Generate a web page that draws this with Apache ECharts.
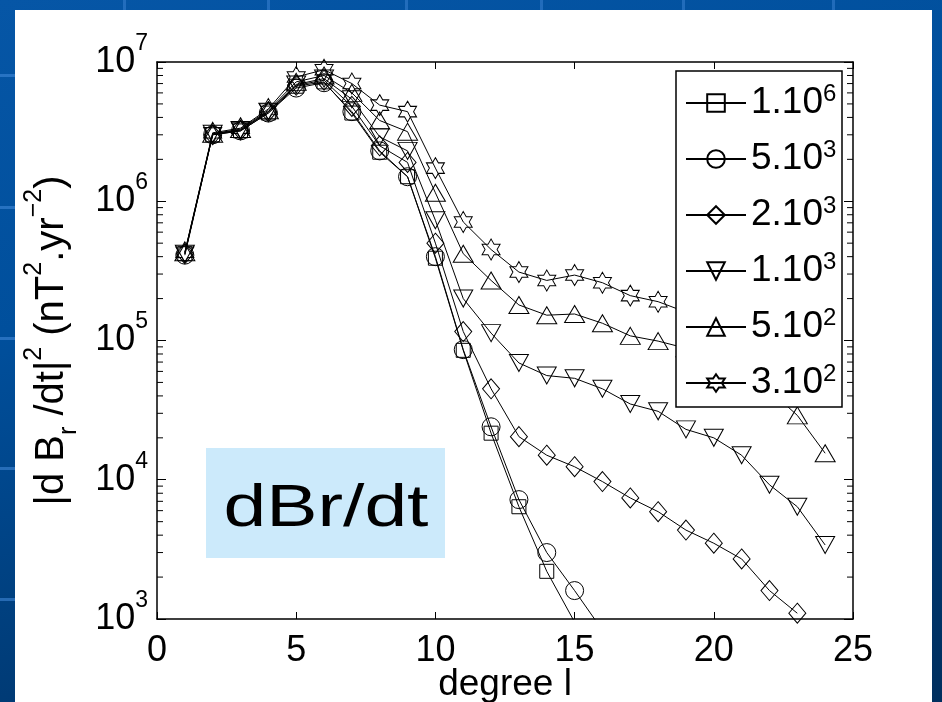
<!DOCTYPE html>
<html><head><meta charset="utf-8">
<script src="https://cdn.jsdelivr.net/npm/echarts@6/dist/echarts.min.js"></script>
<style>
html,body{margin:0;padding:0;}
#wrap{position:relative;width:942px;height:702px;overflow:hidden;background:linear-gradient(165deg,#0656a6 0%,#004f9c 35%,#003a74 75%,#002f5e 100%);}
.hl{position:absolute;left:0;width:15px;height:3px;background:rgba(70,140,220,0.55);}
.vl{position:absolute;top:0;width:3px;height:10px;background:rgba(70,140,220,0.45);}
#paper{position:absolute;left:15px;top:10px;width:917px;height:692px;background:#fff;}
#chart{position:absolute;left:0;top:0;width:942px;height:702px;}
</style></head><body>
<div id="wrap">
<div class="hl" style="top:74px"></div><div class="hl" style="top:206px"></div><div class="hl" style="top:337px"></div><div class="hl" style="top:467px"></div><div class="hl" style="top:598px"></div>
<div class="vl" style="left:123px"></div><div class="vl" style="left:267px"></div><div class="vl" style="left:405px"></div><div class="vl" style="left:540px"></div><div class="vl" style="left:682px"></div><div class="vl" style="left:832px"></div>
<div id="paper"></div><div id="chart"></div></div>
<script>
// ---- data ----
const degrees = [1,2,3,4,5,6,7,8,9,10,11,12,13,14,15,16,17,18,19,20,21,22,23,24];
const v_1e6 = [4.2e5,3.0e6,3.2e6,4.3e6,6.7e6,7.2e6,4.3e6,2.25e6,1.5e6,3.9e5,8.5e4,2.16e4,6.4e3,2.2e3,9.5e2];
const v_5e3 = [4.1e5,3.0e6,3.2e6,4.3e6,6.5e6,7.1e6,4.4e6,2.3e6,1.5e6,4.0e5,8.6e4,2.4e4,7.2e3,3.0e3,1.6e3,8.3e2];
const v_2e3 = [4.2e5,3.0e6,3.25e6,4.4e6,6.8e6,7.4e6,4.8e6,2.5e6,1.9e6,5.0e5,1.16e5,4.5e4,2.04e4,1.5e4,1.24e4,9.7e3,7.4e3,5.9e3,4.35e3,3.5e3,2.7e3,1.6e3,1.1e3];
const v_1e3 = [4.2e5,3.05e6,3.25e6,4.4e6,6.9e6,7.6e6,5.4e6,2.9e6,2.3e6,7.3e5,2.0e5,1.13e5,6.9e4,5.6e4,5.35e4,4.5e4,3.5e4,3.1e4,2.3e4,2.0e4,1.5e4,9.2e3,6.4e3,3.4e3];
const v_5e2 = [4.3e5,3.05e6,3.3e6,4.5e6,7.2e6,8.0e6,6.0e6,3.8e6,3.16e6,1.15e6,4.2e5,2.7e5,1.8e5,1.52e5,1.55e5,1.33e5,1.08e5,9.9e4,8.8e4,7.2e4,5.8e4,4.4e4,2.9e4,1.55e4];
const v_3e2 = [4.3e5,3.1e6,3.35e6,4.6e6,7.8e6,8.8e6,7.0e6,4.9e6,4.4e6,1.73e6,7.1e5,4.5e5,3.1e5,2.7e5,2.95e5,2.6e5,2.1e5,1.9e5,1.6e5,1.45e5,1.3e5,1.15e5,1.0e5,8.5e4];
const seriesNames = ['1.10^6','5.10^3','2.10^3','1.10^3','5.10^2','3.10^2'];
const seriesValues = [v_1e6, v_5e3, v_2e3, v_1e3, v_5e2, v_3e2];
const xTicks = [0,5,10,15,20,25];
const yTickExponents = [3,4,5,6,7];
const minorMultipliers = [2,3,4,5,6,7,8,9];

// ---- styles ----
const FONT = 'Liberation Sans';
const hexagram = 'path://M50,0L64.43,25L93.3,25L78.87,50L93.3,75L64.43,75L50,100L35.57,75L6.7,75L21.13,50L6.7,25L35.57,25Z';
const markers = [
  {symbol:'rect', size:[14,14], rotate:0},
  {symbol:'circle', size:[18,18], rotate:0},
  {symbol:'diamond', size:[17,20], rotate:0},
  {symbol:'triangle', size:[19,17], rotate:180},
  {symbol:'triangle', size:[20,17], rotate:0},
  {symbol:hexagram, size:[18,21], rotate:0}
];

const minorVals = [];
yTickExponents.slice(0,-1).forEach(e => minorMultipliers.forEach(m => minorVals.push(m*Math.pow(10,e))));

const chart = echarts.init(document.getElementById('chart'), null, {renderer:'canvas'});

const lineSeries = seriesNames.map((name, i) => ({
  name: name,
  type: 'line',
  data: seriesValues[i].map((v, j) => [degrees[j], v]),
  symbol: markers[i].symbol,
  symbolSize: markers[i].size,
  symbolRotate: markers[i].rotate,
  showAllSymbol: true,
  clip: true,
  lineStyle: {color:'#000', width:1},
  itemStyle: {color:'rgba(0,0,0,0)', borderColor:'#000', borderWidth:1},
  emphasis: {disabled:true},
  z: 2
}));

const minorTickSeries = {
  type: 'custom',
  silent: true,
  data: minorVals.map(v => [0, v]),
  renderItem: function(params, api) {
    const v = api.value(1);
    const p = api.coord([xTicks[0], v]);
    const q = api.coord([xTicks[xTicks.length-1], v]);
    return {type:'group', children:[
      {type:'line', shape:{x1:p[0], y1:p[1], x2:p[0]+6, y2:p[1]}, style:{stroke:'#000', lineWidth:1}},
      {type:'line', shape:{x1:q[0], y1:q[1], x2:q[0]-6, y2:q[1]}, style:{stroke:'#000', lineWidth:1}}
    ]};
  },
  z: 3
};

function expLabel(v) {
  const e = yTickExponents.find(k => Math.abs(Math.pow(10,k) - v) < 1e-6 * v);
  return e === undefined ? '' : '{b|10}{s|' + e + '}';
}

const option = {
  animation: false,
  backgroundColor: 'transparent',
  grid: {left:157, top:62, width:696, height:557, containLabel:false, outerBoundsMode:'none'},
  xAxis: [{
    type:'value', min:xTicks[0], max:xTicks[xTicks.length-1], interval:5,
    axisLine:{show:true, onZero:false, lineStyle:{color:'#000', width:1.5}},
    axisTick:{show:true, inside:true, length:7, lineStyle:{color:'#000', width:1}},
    axisLabel:{show:true, margin:14, color:'#000', fontSize:36, fontFamily:FONT},
    splitLine:{show:false},
    name:'degree l', nameLocation:'middle', nameGap:47, nameMoveOverlap:false,
    nameTextStyle:{color:'#000', fontSize:37, fontFamily:FONT}
  },{
    type:'value', position:'top', min:xTicks[0], max:xTicks[xTicks.length-1], interval:5,
    axisLine:{show:true, onZero:false, lineStyle:{color:'#000', width:1.5}},
    axisTick:{show:true, inside:true, length:7, lineStyle:{color:'#000', width:1}},
    axisLabel:{show:false}, splitLine:{show:false}
  }],
  yAxis: [{
    type:'log', logBase:10, min:1e3, max:1e7,
    axisLine:{show:true, onZero:false, lineStyle:{color:'#000', width:1.5}},
    axisTick:{show:true, inside:true, length:9, lineStyle:{color:'#000', width:1}},
    axisLabel:{show:true, margin:9, color:'#000', fontFamily:FONT, formatter:expLabel,
      rich:{b:{fontSize:36, lineHeight:60, fontFamily:FONT, color:'#000'},
            s:{fontSize:23, lineHeight:23, verticalAlign:'top', fontFamily:FONT, color:'#000'}}},
    splitLine:{show:false}, minorTick:{show:false},
    name:'|d B{sub|r} /dt|{sup|2} (nT{sup|2}.yr{sup|−2})', nameLocation:'middle', nameGap:75, nameMoveOverlap:false,
    nameTextStyle:{color:'#000', fontSize:40, lineHeight:60, fontFamily:FONT,
      rich:{sub:{fontSize:25, lineHeight:25, verticalAlign:'bottom', fontFamily:FONT, color:'#000'},
            sup:{fontSize:25, lineHeight:25, verticalAlign:'top', fontFamily:FONT, color:'#000'}}}
  },{
    type:'log', logBase:10, min:1e3, max:1e7, position:'right',
    axisLine:{show:true, onZero:false, lineStyle:{color:'#000', width:1.5}},
    axisTick:{show:true, inside:true, length:9, lineStyle:{color:'#000', width:1}},
    axisLabel:{show:false}, splitLine:{show:false}
  }],
  legend: {
    data: seriesNames,
    orient:'vertical', left:676, top:71,
    itemWidth:60, itemHeight:22, itemGap:14,
    padding:[11,2,3,9],
    backgroundColor:'#fff', borderColor:'#000', borderWidth:1.5, borderRadius:0,
    selectedMode:false,
    formatter: n => n.replace(/\^(\d+)/, '{s|$1}'),
    textStyle:{color:'#000', fontSize:37, lineHeight:42, width:89, overflow:'none', fontFamily:FONT,
      rich:{s:{fontSize:24, lineHeight:22, verticalAlign:'top', fontFamily:FONT, color:'#000'}}},
    z: 10
  },
  graphic: [
    {type:'rect', left:206, top:448, shape:{width:239, height:110}, style:{fill:'#cceafb'}, z:5},
    {type:'text', x:326, y:509, scaleX:1.28, scaleY:1, style:{x:0, y:0, text:'dBr/dt', font:'60px "Liberation Sans"', fill:'#000', align:'center', verticalAlign:'middle'}, z:6}
  ],
  series: [...lineSeries, minorTickSeries]
};
chart.setOption(option);
</script></body></html>
